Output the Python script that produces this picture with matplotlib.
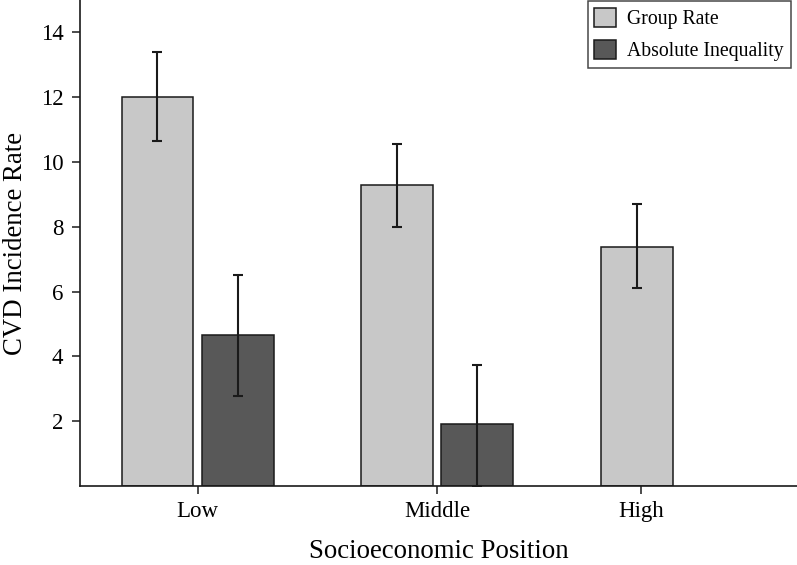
import numpy as np
import matplotlib
matplotlib.use("Agg")
import matplotlib.pyplot as plt

plt.rcParams['font.family'] = ['Liberation Serif', 'DejaVu Serif']

groups = ["Low", "Middle", "High"]
group_rate = [12.0, 9.29, 7.39]
group_lo = [10.65, 7.99, 6.10]
group_hi = [13.38, 10.57, 8.69]

abs_ineq = [4.65, 1.91]
abs_lo = [2.77, 0.0]
abs_hi = [6.52, 3.74]

tick_pos = [0, 1, 1.85]

fig = plt.figure(figsize=(7.97, 5.65), dpi=100)
ax = fig.add_axes([0.1004, 0.1398, 0.8996, 0.8602])

w = 0.3
off = 0.167
light = "#c8c8c8"
dark = "#585858"

# group rate bars
gx = np.array([-off, 1 - off, 2 - off])
ax.bar(gx, group_rate, width=w, color=light, edgecolor="#1a1a1a", linewidth=1.1,
       label="Group Rate", zorder=2)
ax.errorbar(gx, group_rate,
            yerr=[np.array(group_rate) - np.array(group_lo), np.array(group_hi) - np.array(group_rate)],
            fmt="none", ecolor="#1a1a1a", elinewidth=1.5, capsize=3.6, capthick=1.5, zorder=3)

# absolute inequality bars
ax_ = np.array([off, 1 + off])
ax.bar(ax_, abs_ineq, width=w, color=dark, edgecolor="#1a1a1a", linewidth=1.1,
       label="Absolute Inequality", zorder=2)
ax.errorbar(ax_, abs_ineq,
            yerr=[np.array(abs_ineq) - np.array(abs_lo), np.array(abs_hi) - np.array(abs_ineq)],
            fmt="none", ecolor="#1a1a1a", elinewidth=1.5, capsize=3.6, capthick=1.5, zorder=3)

ax.set_xlim(-0.49, 2.5)
ax.set_ylim(0, 15)
ax.set_yticks([2, 4, 6, 8, 10, 12, 14])
ax.set_xticks(tick_pos)
ax.set_xticklabels(groups)
ax.tick_params(axis="both", labelsize=16.5, length=6, width=1.1, color="#1a1a1a")
ax.tick_params(axis="x", pad=5)
ax.tick_params(axis="y", pad=6)

for s in ["top", "right"]:
    ax.spines[s].set_visible(False)
for s in ["left", "bottom"]:
    ax.spines[s].set_linewidth(1.2)
    ax.spines[s].set_color("#1a1a1a")

ax.set_xlabel("Socioeconomic Position", fontsize=19.3, labelpad=12)
ax.set_ylabel("CVD Incidence Rate", fontsize=19.3, labelpad=9)

leg = ax.legend(loc="upper right", fontsize=14.2, frameon=True, fancybox=False,
                edgecolor="#1a1a1a", handlelength=1.1, handleheight=1.1,
                handletextpad=0.55, borderpad=0.35, labelspacing=0.55,
                borderaxespad=0, bbox_to_anchor=(0.991, 0.998))
leg.get_frame().set_linewidth(1.1)

fig.savefig("out.png", dpi=100)
